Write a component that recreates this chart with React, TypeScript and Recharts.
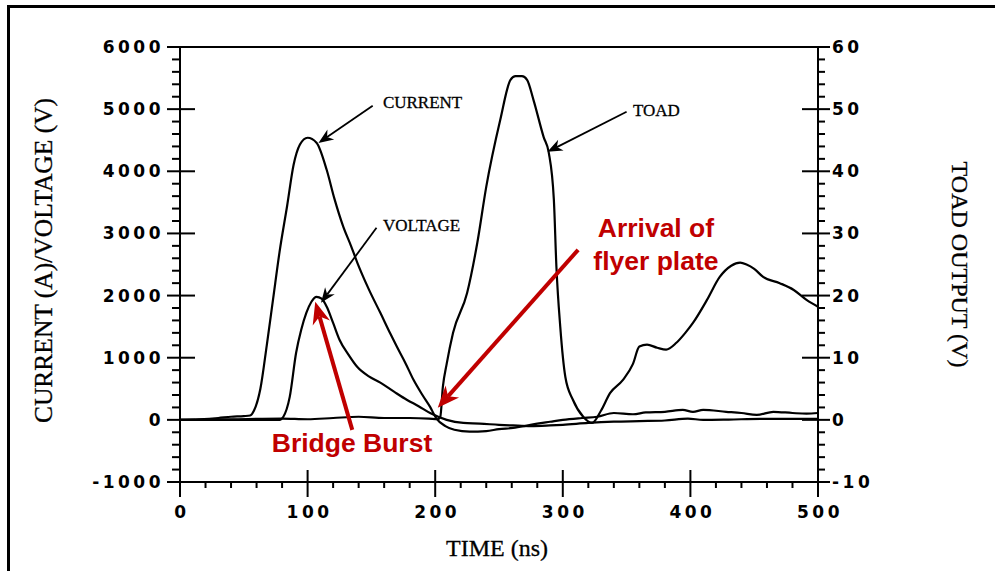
import React from "react";
import { ComposedChart, Line, XAxis, YAxis, ReferenceLine, ReferenceDot } from "recharts";

// time (ns) / current (A)
const currentTime = [0, 15, 30, 40, 50, 55, 58, 63, 68, 73, 78, 84, 89, 94, 100, 107, 115, 121, 128, 134, 139, 148, 157, 165, 170, 177, 183, 190, 196, 201, 208, 215, 227, 240, 250, 261, 270, 280, 290, 300, 315, 327, 340, 355, 365, 380, 394, 402, 410, 428, 440, 452, 465, 480, 491, 500];
const currentAmps = [0, 10, 30, 50, 60, 70, 150, 500, 1200, 1950, 2700, 3450, 4100, 4430, 4540, 4460, 4020, 3560, 3106, 2800, 2527, 2100, 1722, 1380, 1175, 900, 644, 400, 209, 20, -100, -160, -190, -180, -150, -130, -100, -60, -30, 0, 30, 50, 110, 90, 120, 130, 160, 130, 160, 130, 110, 80, 130, 110, 100, 110];

// time (ns) / voltage (V)
const voltageTime = [0, 40, 78, 81, 86, 91, 95, 99, 103, 107, 111, 115, 120, 125, 132, 139, 148, 157, 168, 178, 187, 196, 209, 222, 235, 250, 261, 275, 290, 300, 320, 340, 360, 380, 398, 410, 430, 455, 480, 500];
const voltageVolts = [0, 0, 0, 50, 370, 1080, 1450, 1720, 1900, 1980, 1950, 1820, 1560, 1290, 1050, 850, 700, 600, 450, 320, 220, 110, 0, -50, -60, -80, -90, -100, -90, -80, -50, -30, -20, -10, 20, 0, 5, 15, 15, 15];

// time (ns) / TOAD output (V)
const toadTime = [0, 40, 80, 100, 120, 140, 160, 180, 195, 202, 204, 206, 209, 214, 225, 233, 240, 251, 259, 263, 268, 272, 277, 285, 289, 293, 295, 298, 302, 308, 316, 323, 330, 337, 347, 355, 360, 366, 374, 381, 389, 396, 402, 413, 423, 432, 439, 444, 450, 457, 470, 481, 491, 500];
const toadVolts = [0, 0.1, 0.2, 0.1, 0.3, 0.5, 0.3, 0.3, 0.2, 0.1, 0.5, 5.3, 9, 14, 20.4, 28.5, 37.5, 48.3, 54.7, 55.3, 55.3, 54.7, 51.5, 45.5, 43, 35.4, 24.6, 15, 6.9, 3.2, 0.5, -0.5, 1.5, 4.3, 6.4, 9, 11.8, 12.1, 11.6, 11.3, 12.4, 14, 15.6, 19.3, 23, 24.8, 25.3, 25, 24.3, 23, 22, 20.9, 19.3, 18.2];

const range = (a: number, b: number, s: number) => {
  const out: number[] = [];
  for (let v = a; v <= b; v += s) out.push(v);
  return out;
};
const xTicks = range(0, 500, 20);
const leftTicks = range(-1000, 6000, 200);
const rightTicks = range(-10, 60, 2);

const currentData = currentTime.map((t, i) => ({ t, current: currentAmps[i] }));
const voltageData = voltageTime.map((t, i) => ({ t, voltage: voltageVolts[i] }));
const toadData = toadTime.map((t, i) => ({ t, toad: toadVolts[i] }));

// annotations, in data units (ns, left axis)
const blackNotes = [
  { text: "CURRENT", t: 159, v: 5100 },
  { text: "VOLTAGE", t: 159, v: 3120 },
  { text: "TOAD", t: 355, v: 4975 },
];
const blackArrows = [
  { from: { x: 151, y: 5053 }, to: { x: 108.5, y: 4457 } },
  { from: { x: 154, y: 3090 }, to: { x: 110.5, y: 1883 } },
  { from: { x: 350, y: 4957 }, to: { x: 288, y: 4313 } },
];
const redArrows = [
  { from: { x: 135, y: -161 }, to: { x: 106, y: 1900 } },
  { from: { x: 312, y: 2736 }, to: { x: 202, y: 193 } },
];
const redNotes = [
  { text: "Bridge Burst", t: 134.8, v: -370 },
  { text: "Arrival of", t: 373, v: 3090 },
  { text: "flyer plate", t: 373, v: 2559 },
];

const RED = "#c00000";
const tickFont = { fontFamily: "DejaVu Sans", fontWeight: 700, fontSize: 17, letterSpacing: 3.5 } as const;
const serif = "Liberation Serif, Times New Roman, serif";

const arrow = (color: string, width: number, len: number, half: number) => (p: any) => {
  const { x1, y1, x2, y2 } = p;
  const dx = x2 - x1, dy = y2 - y1;
  const d = Math.hypot(dx, dy) || 1;
  const ux = dx / d, uy = dy / d, nx = -uy, ny = ux;
  const bx = x2 - ux * len, by = y2 - uy * len;
  const mx = x2 - ux * len * 0.7, my = y2 - uy * len * 0.7;
  const pts = [
    [x2, y2],
    [bx + nx * half, by + ny * half],
    [mx, my],
    [bx - nx * half, by - ny * half],
  ].map((q) => q.join(",")).join(" ");
  return (
    <g>
      <line x1={x1} y1={y1} x2={mx} y2={my} stroke={color} strokeWidth={width} />
      <polygon points={pts} fill={color} />
    </g>
  );
};

const LeftTick = (p: any) => {
  const v = p.payload.value;
  const major = v % 1000 === 0;
  return (
    <g>
      <line x1={p.x - (major ? 13 : 8)} x2={p.x + (major ? 15 : 0)} y1={p.y} y2={p.y} stroke="#000" strokeWidth={2} />
      {major && (
        <text x={p.x - 16} y={p.y} textAnchor="end" dominantBaseline="central" fill="#000" {...tickFont}>
          {v}
        </text>
      )}
    </g>
  );
};

const RightTick = (p: any) => {
  const v = p.payload.value;
  const major = v % 10 === 0;
  return (
    <g>
      <line x1={p.x - (major ? 16 : 0)} x2={p.x + (major ? 12 : 7)} y1={p.y} y2={p.y} stroke="#000" strokeWidth={2} />
      {major && (
        <text x={p.x + 14} y={p.y} textAnchor="start" dominantBaseline="central" fill="#000" {...tickFont}>
          {v}
        </text>
      )}
    </g>
  );
};

const BottomTick = (p: any) => {
  const v = p.payload.value;
  const major = v % 100 === 0;
  return (
    <g>
      <line x1={p.x} x2={p.x} y1={p.y - (major ? 12 : 0)} y2={p.y + (major ? 15 : 6)} stroke="#000" strokeWidth={2} />
      {major && (
        <text x={p.x + 2} y={p.y + 30} textAnchor="middle" dominantBaseline="central" fill="#000" {...tickFont}>
          {v}
        </text>
      )}
    </g>
  );
};

const TopTick = (p: any) => {
  const v = p.payload.value;
  const major = v % 100 === 0;
  return (
    <line x1={p.x} x2={p.x} y1={p.y - (major ? 13 : 7)} y2={p.y + (major ? 13 : 0)} stroke="#000" strokeWidth={2} />
  );
};

export default function App() {
  return (
    <div style={{ position: "absolute", left: 0, top: 0, width: 995, height: 571, background: "#fff" }}>
      <div
        style={{
          position: "absolute",
          left: 7,
          top: 5,
          width: 988,
          height: 566,
          borderTop: "3px solid #000",
          borderLeft: "3px solid #000",
        }}
      />
      <ComposedChart width={995} height={571} margin={{ top: 0, right: 0, bottom: 0, left: 0 }}>
        <XAxis
          xAxisId="bottom"
          dataKey="t"
          type="number"
          domain={[0, 500]}
          ticks={xTicks}
          interval={0}
          height={89}
          tickSize={0}
          tickMargin={0}
          tickLine={false}
          tick={BottomTick}
          axisLine={{ stroke: "#000", strokeWidth: 2 }}
          label={(p: any) => (
            <text
              x={p.viewBox.x + 317}
              y={p.viewBox.y + 66}
              textAnchor="middle"
              dominantBaseline="central"
              fontFamily={serif}
              fontSize={24}
              fill="#000"
              stroke="#000"
              strokeWidth={0.3}
            >
              TIME (ns)
            </text>
          )}
        />
        <XAxis
          xAxisId="top"
          orientation="top"
          dataKey="t"
          type="number"
          domain={[0, 500]}
          ticks={xTicks}
          interval={0}
          height={47}
          tickSize={0}
          tickMargin={0}
          tickLine={false}
          tick={TopTick}
          axisLine={{ stroke: "#000", strokeWidth: 2 }}
        />
        <YAxis
          yAxisId="left"
          type="number"
          domain={[-1000, 6000]}
          ticks={leftTicks}
          interval={0}
          width={180}
          tickSize={0}
          tickMargin={0}
          tickLine={false}
          tick={LeftTick}
          axisLine={{ stroke: "#000", strokeWidth: 2 }}
          label={(p: any) => {
            const cx = p.viewBox.x + 43;
            const cy = p.viewBox.y + p.viewBox.height / 2 - 4;
            return (
              <text
                x={cx}
                y={cy}
                transform={`rotate(-90 ${cx} ${cy})`}
                textAnchor="middle"
                dominantBaseline="central"
                fontFamily={serif}
                fontSize={25.5}
                fill="#000"
                stroke="#000"
                strokeWidth={0.3}
              >
                CURRENT (A)/VOLTAGE (V)
              </text>
            );
          }}
        />
        <YAxis
          yAxisId="right"
          orientation="right"
          type="number"
          domain={[-10, 60]}
          ticks={rightTicks}
          interval={0}
          width={177}
          tickSize={0}
          tickMargin={0}
          tickLine={false}
          tick={RightTick}
          axisLine={{ stroke: "#000", strokeWidth: 2 }}
          label={(p: any) => {
            const cx = p.viewBox.x + 142;
            const cy = p.viewBox.y + p.viewBox.height / 2;
            return (
              <text
                x={cx}
                y={cy}
                transform={`rotate(90 ${cx} ${cy})`}
                textAnchor="middle"
                dominantBaseline="central"
                fontFamily={serif}
                fontSize={24}
                fill="#000"
                stroke="#000"
                strokeWidth={0.3}
              >
                TOAD OUTPUT (V)
              </text>
            );
          }}
        />
        <Line
          xAxisId="bottom"
          yAxisId="left"
          data={currentData}
          dataKey="current"
          type="monotone"
          stroke="#000"
          strokeWidth={2.2}
          dot={false}
          isAnimationActive={false}
        />
        <Line
          xAxisId="bottom"
          yAxisId="left"
          data={voltageData}
          dataKey="voltage"
          type="monotone"
          stroke="#000"
          strokeWidth={2.2}
          dot={false}
          isAnimationActive={false}
        />
        <Line
          xAxisId="bottom"
          yAxisId="right"
          data={toadData}
          dataKey="toad"
          type="monotone"
          stroke="#000"
          strokeWidth={2.2}
          dot={false}
          isAnimationActive={false}
        />
        {blackArrows.map((a, i) => (
          <ReferenceLine
            key={"ba" + i}
            xAxisId="bottom"
            yAxisId="left"
            segment={[a.from, a.to]}
            shape={arrow("#000", 1.8, 15, 6)}
          />
        ))}
        {blackNotes.map((n, i) => (
          <ReferenceDot
            key={"bn" + i}
            xAxisId="bottom"
            yAxisId="left"
            x={n.t}
            y={n.v}
            r={0}
            shape={(p: any) => (
              <text
                x={p.cx}
                y={p.cy}
                textAnchor="start"
                dominantBaseline="central"
                fontFamily={serif}
                fontSize={17}
                fill="#000"
                stroke="#000"
                strokeWidth={0.3}
              >
                {n.text}
              </text>
            )}
          />
        ))}
        {redArrows.map((a, i) => (
          <ReferenceLine
            key={"ra" + i}
            xAxisId="bottom"
            yAxisId="left"
            segment={[a.from, a.to]}
            shape={arrow(RED, 4, 22, 9)}
          />
        ))}
        {redNotes.map((n, i) => (
          <ReferenceDot
            key={"rn" + i}
            xAxisId="bottom"
            yAxisId="left"
            x={n.t}
            y={n.v}
            r={0}
            shape={(p: any) => (
              <text
                x={p.cx}
                y={p.cy}
                textAnchor="middle"
                dominantBaseline="central"
                fontFamily="Liberation Sans, Arial, sans-serif"
                fontWeight={700}
                fontSize={26.5}
                fill={RED}
              >
                {n.text}
              </text>
            )}
          />
        ))}
      </ComposedChart>
    </div>
  );
}
